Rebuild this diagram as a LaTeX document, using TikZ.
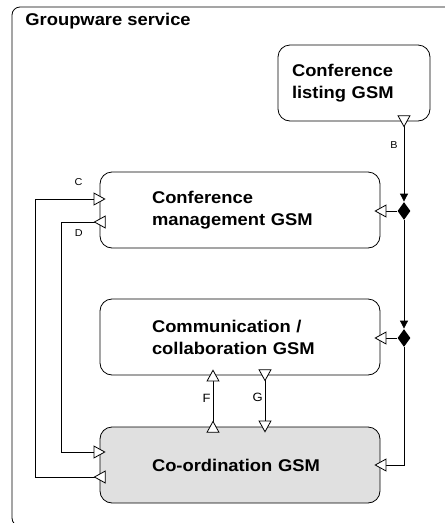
\documentclass[tikz,border=0pt]{standalone}
\usepackage{fontspec}
\setmainfont{Liberation Sans}[FakeStretch=1.08]
\usetikzlibrary{arrows.meta,shapes.geometric}
\definecolor{coordgray}{HTML}{E0E0E0}

\begin{document}
\begin{tikzpicture}[x=1pt,y=-1pt,line width=0.8pt,
  inlet/.tip={Triangle[length=12pt,width=13pt,fill=white]},
  outlet/.tip={Triangle[reversed,length=12pt,width=13pt,fill=white]},
  feedtip/.tip={Triangle[length=8pt,width=8pt]},
  gsm/.style={draw,rounded corners=12pt,align=left,minimum height=76pt,
    inner ysep=0pt,font=\fontsize{17}{22}\selectfont\bfseries},
  junction/.style={diamond,fill=black,inner sep=0pt,minimum width=13pt,minimum height=18pt},
  flow/.style={outlet-inlet,shorten <=-6pt,shorten >=-6pt},
  lbl/.style={font=\fontsize{10}{12}\selectfont,inner sep=2pt},
  biglbl/.style={font=\fontsize{12}{14}\selectfont,inner sep=2pt}]

  \useasboundingbox (0,0) rectangle (445,523);
  \clip (0,0) rectangle (445,523);

  % ================= service frame =================
  \draw[rounded corners=8pt] (12,7) rectangle (470,526);
  \node[font=\fontsize{17}{20}\selectfont\bfseries,anchor=base west,inner sep=0pt]
    (title) at (25,25) {Groupware service};

  % ================= GSM boxes =================
  \node[gsm,text width=124pt,inner xsep=14pt] (listing) at (354,83) {Conference\\listing GSM};
  \node[gsm,text width=176pt,inner xsep=52pt] (mgmt) at (240,210) {Conference\\management GSM};
  \node[gsm,text width=176pt,inner xsep=52pt] (commu) at (240,337) {Communication /\\collaboration GSM};
  \node[gsm,fill=coordgray,text width=176pt,inner xsep=52pt] (coord) at (240,465) {Co-ordination GSM};

  % ================= right feed line (B) =================
  \node[junction] (jmgmt) at (404,211) {};
  \node[junction] (jcomm) at (404,338) {};

  \draw[outlet-feedtip,shorten <=-6pt] ([xshift=50pt]listing.south) -- (jmgmt.north)
    node[lbl,left=4pt,pos=0.3] {B};
  \draw[-feedtip] (jmgmt.south) -- (jcomm.north);
  \draw[-inlet,shorten >=-6pt] (jmgmt.west) -- (jmgmt -| mgmt.east);
  \draw[-inlet,shorten >=-6pt] (jcomm.west) -- (jcomm -| commu.east);
  \draw[-inlet,shorten >=-6pt] (jcomm.south) |- (coord.east);

  % ================= left loops (C, D) =================
  \draw[flow] ([yshift=-12pt]coord.west) -- ++(-64,0)
    |- node[lbl,above=11pt,pos=0.836] {C} ([yshift=11pt]mgmt.west);
  \draw[flow] ([yshift=-12pt]mgmt.west) -- node[lbl,below=5pt,pos=0.55] {D} ++(-38,0)
    |- ([yshift=13pt]coord.west);

  % ================= between communication and co-ordination (F, G) =================
  \draw[flow] ([xshift=-27pt]coord.north) -- node[biglbl,left=0pt,pos=0.55] {F} ([xshift=-27pt]commu.south);
  \draw[flow] ([xshift=25pt]commu.south) -- node[biglbl,left=0pt,pos=0.42] {G} ([xshift=25pt]coord.north);

\end{tikzpicture}
\end{document}
